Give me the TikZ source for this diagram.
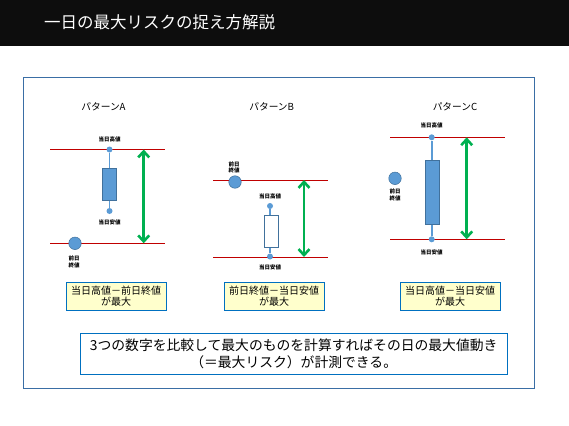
\documentclass[tikz,border=0pt]{standalone}
\usepackage{fontspec}
\setmainfont{Noto Sans CJK JP}
\usetikzlibrary{arrows.meta}

\definecolor{bandblack}{HTML}{0D0D0D}
\definecolor{framebl}{HTML}{3A6EA5}
\definecolor{candlebl}{HTML}{5B9BD5}
\definecolor{candleedge}{HTML}{41719C}
\definecolor{levelred}{HTML}{C00000}
\definecolor{rangegreen}{HTML}{00B050}
\definecolor{notebl}{HTML}{0070C0}
\definecolor{noteyel}{HTML}{FFFFCC}

\begin{document}
\begin{tikzpicture}[x=1pt, y=-1pt,
  heading/.style={font=\fontsize{9.7}{11}\selectfont, inner sep=0pt},
  tiny/.style={font=\fontsize{5.5}{6.5}\selectfont\bfseries, align=center, inner sep=0pt},
  levelline/.style={levelred, line width=0.9pt},
  wickdot/.style={circle, fill=candlebl, inner sep=0pt, minimum size=6pt},
  wick/.style={candlebl, line width=1.6pt},
  candlebody/.style={draw=candleedge, fill=candlebl, line width=0.7pt, minimum width=14pt, inner sep=0pt},
  hollow/.style={candlebody, fill=white},
  prevclose/.style={circle, draw=candleedge, fill=candlebl, minimum size=12.5pt, inner sep=0pt, line width=0.5pt},
  spanarrow/.style={{Straight Barb[length=6pt,width=11pt]}-{Straight Barb[length=6pt,width=11pt]}, rangegreen, line width=2.6pt},
  result/.style={draw=notebl, fill=noteyel, line width=0.9pt, minimum width=100pt, minimum height=27.5pt, align=center, inner sep=1pt, font=\fontsize{10}{11.5}\selectfont},
  summary/.style={draw=notebl, line width=0.9pt, minimum width=427pt, minimum height=40.5pt, align=center, font=\fontsize{13.8}{17}\selectfont}
]
\useasboundingbox (0,0) rectangle (569,425);

% title band and frame
\fill[bandblack] (0,0) rectangle (569,46);
\node[anchor=west, text=white, font=\fontsize{16.5}{18}\selectfont, inner sep=0pt] (title) at (44,22) {一日の最大リスクの捉え方解説};
\draw[framebl, line width=0.8pt] (23,77) rectangle (534,388);

% pattern A
\node[heading] (headA) at (103.5,107) {パターンA};
\draw[levelline] (50,149.5) -- (165,149.5);
\draw[levelline] (50,243.3) -- (165,243.3);
\node[wickdot] (hiA) at (109.5,149.5) {};
\node[wickdot] (loA) at (109.5,211) {};
\draw[wick] (hiA) -- (loA);
\node[candlebody, minimum height=32pt] (bodyA) at (109.5,184.2) {};
\node[tiny] (hiAlbl) at (109.5,139.5) {当日高値};
\node[tiny] (loAlbl) at (109.5,222) {当日安値};
\node[prevclose] (pcA) at (75,243.3) {};
\node[tiny, anchor=north] (pcAlbl) at (74,256) {前日\\終値};
\coordinate (rtopA) at (143.7,149.5);
\coordinate (rbotA) at (143.7,243.3);
\draw[spanarrow] (rtopA) -- (rbotA);

% pattern B
\node[heading] (headB) at (271.7,107) {パターンB};
\draw[levelline] (213,180) -- (328,180);
\draw[levelline] (213,257) -- (328,257);
\node[prevclose] (pcB) at (235,182) {};
\node[tiny, anchor=south] (pcBlbl) at (234,173.5) {前日\\終値};
\node[wickdot] (hiB) at (270,206) {};
\node[wickdot] (loB) at (270,256.5) {};
\draw[wick] (hiB) -- (loB);
\node[hollow, minimum height=32pt] (bodyB) at (271.5,231.2) {};
\node[tiny] (hiBlbl) at (270,196) {当日高値};
\node[tiny] (loBlbl) at (270,267) {当日安値};
\coordinate (rtopB) at (304,180);
\coordinate (rbotB) at (304,257);
\draw[spanarrow] (rtopB) -- (rbotB);

% pattern C
\node[heading] (headC) at (455,107) {パターンC};
\draw[levelline] (390,137.3) -- (505,137.3);
\draw[levelline] (390,239.3) -- (505,239.3);
\node[wickdot] (hiC) at (431.7,137.3) {};
\node[wickdot] (loC) at (431.7,239.3) {};
\draw[wick] (hiC) -- (loC);
\node[candlebody, minimum height=64pt] (bodyC) at (432.7,192.2) {};
\node[tiny] (hiClbl) at (431.7,125.7) {当日高値};
\node[tiny] (loClbl) at (431.7,252.3) {当日安値};
\node[prevclose] (pcC) at (395,178.3) {};
\node[tiny, anchor=north] (pcClbl) at (395,189) {前日\\終値};
\coordinate (rtopC) at (466.7,137.3);
\coordinate (rbotC) at (466.7,239.3);
\draw[spanarrow] (rtopC) -- (rbotC);

% results
\node[result] (resA) at (116,296.2) {当日高値－前日終値\\が最大};
\node[result] (resB) at (274.2,296.2) {前日終値－当日安値\\が最大};
\node[result] (resC) at (450,296.2) {当日高値－当日安値\\が最大};

\node[summary] (note) at (293.7,353.7) {3つの数字を比較して最大のものを計算すればその日の最大値動き\\（＝最大リスク）が計測できる。};
\end{tikzpicture}
\end{document}
